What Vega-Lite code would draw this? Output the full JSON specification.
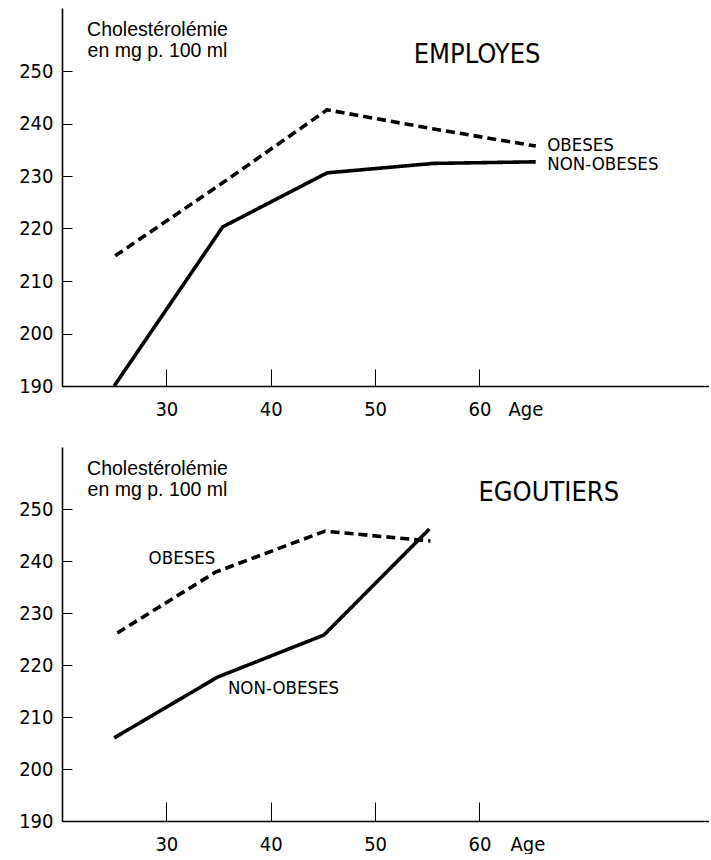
{
  "$schema": "https://vega.github.io/schema/vega-lite/v6.json",
  "padding": {"left": 18, "top": 8, "right": 0, "bottom": 0},
  "spacing": 28,
  "datasets": {
    "employes": [
      {"group": "OBESES", "age": 25.1, "chol": 214.8},
      {"group": "OBESES", "age": 35.4, "chol": 228.7},
      {"group": "OBESES", "age": 45.4, "chol": 242.6},
      {"group": "OBESES", "age": 55.5, "chol": 239.0},
      {"group": "OBESES", "age": 65.4, "chol": 235.7},
      {"group": "NON-OBESES", "age": 25.0, "chol": 190.0},
      {"group": "NON-OBESES", "age": 35.4, "chol": 220.3},
      {"group": "NON-OBESES", "age": 45.4, "chol": 230.6},
      {"group": "NON-OBESES", "age": 55.6, "chol": 232.4},
      {"group": "NON-OBESES", "age": 65.4, "chol": 232.7}
    ],
    "egoutiers": [
      {"group": "OBESES", "age": 25.3, "chol": 226.2},
      {"group": "OBESES", "age": 34.7, "chol": 237.9},
      {"group": "OBESES", "age": 45.2, "chol": 245.8},
      {"group": "OBESES", "age": 55.3, "chol": 243.9},
      {"group": "NON-OBESES", "age": 25.0, "chol": 206.0},
      {"group": "NON-OBESES", "age": 34.9, "chol": 217.7},
      {"group": "NON-OBESES", "age": 45.1, "chol": 225.8},
      {"group": "NON-OBESES", "age": 55.2, "chol": 246.2}
    ],
    "labels": [
      {"panel": "EMPLOYES", "kind": "series", "text": "OBESES", "age": 66.5, "chol": 235.9},
      {"panel": "EMPLOYES", "kind": "series", "text": "NON-OBESES", "age": 66.5, "chol": 232.3},
      {"panel": "EMPLOYES", "kind": "title", "text": "EMPLOYES", "age": 53.7, "chol": 253.0},
      {"panel": "EGOUTIERS", "kind": "series", "text": "OBESES", "age": 28.3, "chol": 240.6},
      {"panel": "EGOUTIERS", "kind": "series", "text": "NON-OBESES", "age": 35.9, "chol": 215.6},
      {"panel": "EGOUTIERS", "kind": "title", "text": "EGOUTIERS", "age": 59.9, "chol": 253.1}
    ]
  },
  "vconcat": [
    {
      "width": 647,
      "height": 378,
      "layer": [
        {
          "data": {"name": "employes"},
          "mark": {"type": "line", "color": "black", "strokeWidth": 3.6, "strokeJoin": "round"},
          "encoding": {
            "x": {"field": "age", "type": "quantitative",
                  "scale": {"domain": [20, 82], "nice": false, "zero": false},
                  "axis": {"values": [30, 40, 50, 60], "tickSize": -17, "labelPadding": 30,
                           "title": "Age", "titleX": 446, "titleY": 13, "titleAlign": "left", "titleBaseline": "top"}},
            "y": {"field": "chol", "type": "quantitative",
                  "scale": {"domain": [190, 262], "nice": false, "zero": false},
                  "axis": {"values": [190, 200, 210, 220, 230, 240, 250], "tickSize": -10, "labelPadding": 19,
                           "title": ["Cholestérolémie", "en mg p. 100 ml"], "titleAngle": 0,
                           "titleX": 95, "titleY": 12, "titleAlign": "center", "titleBaseline": "top"}},
            "strokeDash": {"field": "group", "type": "nominal",
                           "scale": {"domain": ["NON-OBESES", "OBESES"], "range": [[1, 0], [9, 5]]},
                           "legend": null}
          }
        },
        {
          "data": {"name": "labels"},
          "transform": [{"filter": "datum.panel === 'EMPLOYES' && datum.kind === 'series'"}],
          "mark": {"type": "text", "align": "left", "baseline": "middle", "fontSize": 18.5,
                   "font": "Liberation Sans Narrow, DejaVu Sans Condensed, sans-serif", "color": "black"},
          "encoding": {
            "x": {"field": "age", "type": "quantitative"},
            "y": {"field": "chol", "type": "quantitative"},
            "text": {"field": "text"}
          }
        },
        {
          "data": {"name": "labels"},
          "transform": [{"filter": "datum.panel === 'EMPLOYES' && datum.kind === 'title'"}],
          "mark": {"type": "text", "align": "left", "baseline": "middle", "fontSize": 27,
                   "font": "Liberation Sans Narrow, DejaVu Sans Condensed, sans-serif", "color": "black"},
          "encoding": {
            "x": {"field": "age", "type": "quantitative"},
            "y": {"field": "chol", "type": "quantitative"},
            "text": {"field": "text"}
          }
        }
      ]
    },
    {
      "width": 647,
      "height": 374,
      "layer": [
        {
          "data": {"name": "egoutiers"},
          "mark": {"type": "line", "color": "black", "strokeWidth": 3.6, "strokeJoin": "round"},
          "encoding": {
            "x": {"field": "age", "type": "quantitative",
                  "scale": {"domain": [20, 82], "nice": false, "zero": false},
                  "axis": {"values": [30, 40, 50, 60], "tickSize": -19, "labelPadding": 32,
                           "title": "Age", "titleX": 448, "titleY": 13, "titleAlign": "left", "titleBaseline": "top"}},
            "y": {"field": "chol", "type": "quantitative",
                  "scale": {"domain": [190, 262], "nice": false, "zero": false},
                  "axis": {"values": [190, 200, 210, 220, 230, 240, 250], "tickSize": -10, "labelPadding": 19,
                           "title": ["Cholestérolémie", "en mg p. 100 ml"], "titleAngle": 0,
                           "titleX": 95, "titleY": 12, "titleAlign": "center", "titleBaseline": "top"}},
            "strokeDash": {"field": "group", "type": "nominal",
                           "scale": {"domain": ["NON-OBESES", "OBESES"], "range": [[1, 0], [9, 5]]},
                           "legend": null}
          }
        },
        {
          "data": {"name": "labels"},
          "transform": [{"filter": "datum.panel === 'EGOUTIERS' && datum.kind === 'series'"}],
          "mark": {"type": "text", "align": "left", "baseline": "middle", "fontSize": 18.5,
                   "font": "Liberation Sans Narrow, DejaVu Sans Condensed, sans-serif", "color": "black"},
          "encoding": {
            "x": {"field": "age", "type": "quantitative"},
            "y": {"field": "chol", "type": "quantitative"},
            "text": {"field": "text"}
          }
        },
        {
          "data": {"name": "labels"},
          "transform": [{"filter": "datum.panel === 'EGOUTIERS' && datum.kind === 'title'"}],
          "mark": {"type": "text", "align": "left", "baseline": "middle", "fontSize": 27,
                   "font": "Liberation Sans Narrow, DejaVu Sans Condensed, sans-serif", "color": "black"},
          "encoding": {
            "x": {"field": "age", "type": "quantitative"},
            "y": {"field": "chol", "type": "quantitative"},
            "text": {"field": "text"}
          }
        }
      ]
    }
  ],
  "config": {
    "background": "white",
    "view": {"stroke": null},
    "axis": {
      "grid": false,
      "domainColor": "black",
      "domainWidth": 1.6,
      "tickColor": "black",
      "tickWidth": 1,
      "labelColor": "black",
      "labelFont": "Liberation Sans Narrow, DejaVu Sans Condensed, sans-serif",
      "labelFontSize": 20,
      "titleColor": "black",
      "titleFontWeight": "normal"
    },
    "axisX": {
      "titleFont": "Liberation Sans Narrow, DejaVu Sans Condensed, sans-serif",
      "titleFontSize": 20
    },
    "axisY": {
      "titleFont": "Liberation Sans, Arial, sans-serif",
      "titleFontSize": 19.5,
      "titleLineHeight": 21
    }
  }
}
